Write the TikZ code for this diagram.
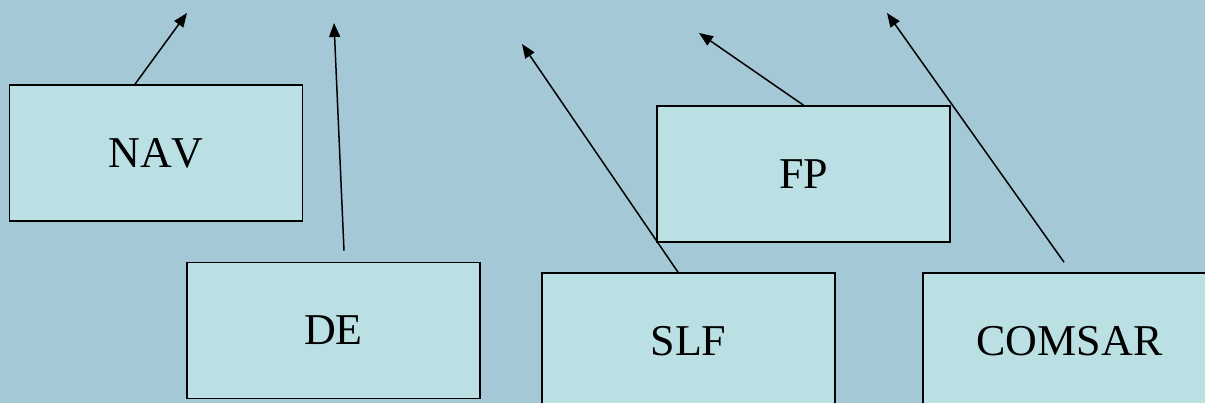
\documentclass[tikz,border=0pt]{standalone}
\usepackage{fontspec}
\setmainfont{Liberation Serif}[Kerning=Off]
\usetikzlibrary{arrows.meta}
\definecolor{bgblue}{HTML}{A5C8D7}
\definecolor{boxfill}{HTML}{BAE0E3}
\begin{document}
\begin{tikzpicture}[x=1pt,y=-1pt,
  committee/.style={draw=black,line width=1.6pt,fill=boxfill,inner sep=0pt,
    minimum width=293pt,minimum height=136pt,
    font=\fontsize{44}{44}\selectfont},
  link/.style={line width=1.5pt,-{Triangle[length=14pt,width=11pt]}}]
  \useasboundingbox (0,0) rectangle (1205,403);
  \clip (0,0) rectangle (1205,403);
  \fill[bgblue] (0,0) rectangle (1205,403);

  % committee boxes
  \node[committee] (nav) at (156,153) {NAV};
  \node[committee] (de) at (333.5,330.5) {DE};
  \node[committee] (fp) at (803.5,174) {FP};
  \node[committee] (slf) at (688.5,341) {SLF};
  \node[committee] (comsar) at (1069.5,341) {COMSAR};

  % arrow ends
  \coordinate (t1) at (187,13);
  \coordinate (t2) at (334,23);
  \coordinate (t3) at (522,44);
  \coordinate (t4) at (699,33);
  \coordinate (t5) at (887,13);

  \draw[link] ([xshift=-21pt]nav.north) -- (t1);
  \draw[link] ([xshift=10.5pt,yshift=11pt]de.north) -- (t2);
  \draw[link] ([xshift=-10.5pt]slf.north) -- (t3);
  \draw[link] (fp.north) -- (t4);
  \draw[link] ([xshift=-5.5pt,yshift=10pt]comsar.north) -- (t5);
\end{tikzpicture}
\end{document}
